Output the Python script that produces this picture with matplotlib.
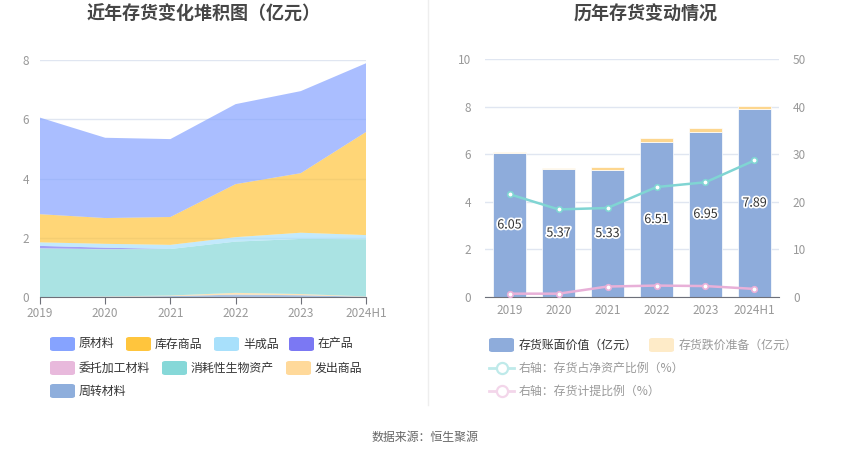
import matplotlib.pyplot as plt
import matplotlib.patheffects as pe
from matplotlib.patches import FancyBboxPatch
from matplotlib.lines import Line2D

plt.rcParams["font.family"] = ["Noto Sans CJK SC", "DejaVu Sans"]

# Data
years = ["2019", "2020", "2021", "2022", "2023", "2024H1"]

raw_material = [3.26, 2.71, 2.63, 2.70, 2.77, 2.32]      # 原材料
stock_goods = [0.95, 0.87, 0.94, 1.79, 2.01, 3.48]       # 库存商品
semi_finished = [0.12, 0.13, 0.14, 0.15, 0.21, 0.14]     # 半成品
work_in_progress = [0.08, 0.05, 0.0, 0.0, 0.0, 0.0]      # 在产品
outsourced = [0.005, 0.005, 0.0, 0.0, 0.0, 0.0]          # 委托加工材料
bio_assets = [1.64, 1.59, 1.57, 1.73, 1.86, 1.93]        # 消耗性生物资产
shipped_goods = [0.0, 0.01, 0.02, 0.06, 0.04, 0.01]      # 发出商品
turnover_material = [0.0, 0.01, 0.03, 0.08, 0.06, 0.01]  # 周转材料

book_value = [6.05, 5.37, 5.33, 6.51, 6.95, 7.89]        # 存货账面价值
impairment = [0.04, 0.04, 0.12, 0.15, 0.16, 0.13]        # 存货跌价准备
net_asset_ratio = [21.6, 18.4, 18.7, 23.1, 24.1, 28.7]   # 存货占净资产比例 %
provision_ratio = [0.7, 0.7, 2.2, 2.4, 2.3, 1.7]         # 存货计提比例 %

W, H = 850, 459
fig = plt.figure(figsize=(W / 100, H / 100), dpi=100)


def fx(px):
    return px / W


def fy(py):
    return 1 - py / H


grid_c = "#e0e6f1"
tick_c = "#999999"
axis_c = "#6e7079"

# ---------------- left: stacked areas ----------------
ax = fig.add_axes([fx(40), fy(297), fx(366 - 40), fy(60) - fy(297)])

# bottom -> top
layers = [
    (turnover_material, "#8eaedc"),
    (shipped_goods, "#ffd99a"),
    (bio_assets, "#86d8d8"),
    (outsourced, "#e8b9dc"),
    (work_in_progress, "#7b78f3"),
    (semi_finished, "#a8e0fb"),
    (stock_goods, "#ffc53d"),
    (raw_material, "#86a3ff"),
]
x = list(range(len(years)))
ax.stackplot(x, *[v for v, _ in layers], colors=[c for _, c in layers],
             alpha=0.7, linewidth=0)
ax.set_xlim(0, len(years) - 1)
ax.set_ylim(0, 8)
ax.set_yticks([0, 2, 4, 6, 8])
ax.set_xticks(x)
ax.set_xticklabels(years)
ax.yaxis.grid(True, color=grid_c, linewidth=1)
ax.set_axisbelow(True)
for s in ["top", "right", "left"]:
    ax.spines[s].set_visible(False)
ax.spines["bottom"].set_color(axis_c)
ax.tick_params(axis="y", length=0, colors=tick_c, labelsize=8.5, pad=8)
ax.tick_params(axis="x", length=5, color=axis_c, colors=tick_c, labelsize=8.5, pad=2)

fig.text(fx(204), fy(14), "近年存货变化堆积图（亿元）", ha="center", va="center",
         fontsize=13, fontweight="bold", color="#464646")

# left legend drawn by hand
left_items = [
    ("原材料", "#86a3ff", 50, 344),
    ("库存商品", "#ffc53d", 126, 344),
    ("半成品", "#a8e0fb", 214, 344),
    ("在产品", "#7b78f3", 289, 344),
    ("委托加工材料", "#e8b9dc", 50, 368),
    ("消耗性生物资产", "#86d8d8", 162, 368),
    ("发出商品", "#ffd99a", 286, 368),
    ("周转材料", "#8eaedc", 50, 391),
]
for label, color, px, py in left_items:
    fig.patches.append(FancyBboxPatch(
        (fx(px), fy(py + 7)), fx(25), fy(py - 7) - fy(py + 7),
        boxstyle="round,pad=0,rounding_size=0.004", transform=fig.transFigure,
        facecolor=color, edgecolor="none"))
    fig.text(fx(px + 29), fy(py), label, ha="left", va="center",
             fontsize=8.6, color="#333333")

# divider
fig.add_artist(Line2D([fx(428), fx(428)], [fy(0), fy(405)], color="#eeeeee",
                      linewidth=1, transform=fig.transFigure))

# ---------------- right: bars + lines ----------------
bx = fig.add_axes([fx(485), fy(297), fx(779 - 485), fy(59) - fy(297)])
bx.bar(x, book_value, width=0.69, color="#8eacdb", edgecolor="white", linewidth=0.5)
bx.bar(x, impairment, width=0.69, bottom=book_value, color="#fdd68e",
       edgecolor="white", linewidth=0.5)
for i, v in enumerate(book_value):
    bx.text(i, v / 2, f"{v:.2f}", ha="center", va="center", fontsize=9,
            color="#333333",
            path_effects=[pe.withStroke(linewidth=2.5, foreground="white")])
bx.set_xlim(-0.5, len(years) - 0.5)
bx.set_ylim(0, 10)
bx.set_yticks([0, 2, 4, 6, 8, 10])
bx.set_xticks(x)
bx.set_xticklabels(years)
bx.yaxis.grid(True, color=grid_c, linewidth=1)
bx.set_axisbelow(True)
for s in ["top", "right", "left"]:
    bx.spines[s].set_visible(False)
bx.spines["bottom"].set_color(axis_c)
bx.tick_params(axis="y", length=0, colors=tick_c, labelsize=8.5, pad=10)
bx.tick_params(axis="x", length=0, colors=tick_c, labelsize=8.5, pad=5)

bx2 = bx.twinx()
bx2.plot(x, net_asset_ratio, color="#80d5d3", linewidth=1.8, marker="o",
         markersize=4, markerfacecolor="white", markeredgewidth=1.2)
bx2.plot(x, provision_ratio, color="#e8b0d8", linewidth=1.8, marker="o",
         markersize=4, markerfacecolor="white", markeredgewidth=1.2)
bx2.set_ylim(0, 50)
bx2.set_yticks([0, 10, 20, 30, 40, 50])
for s in ["top", "right", "left", "bottom"]:
    bx2.spines[s].set_visible(False)
bx2.tick_params(axis="y", length=0, colors=tick_c, labelsize=8.5, pad=10)

fig.text(fx(646), fy(14), "历年存货变动情况", ha="center", va="center",
         fontsize=13, fontweight="bold", color="#464646")

# right legend
for label, color, px, py, tc in [
    ("存货账面价值（亿元）", "#8eacdb", 489, 345, "#333333"),
    ("存货跌价准备（亿元）", "#feebc8", 649, 345, "#999999"),
]:
    fig.patches.append(FancyBboxPatch(
        (fx(px), fy(py + 7)), fx(25), fy(py - 7) - fy(py + 7),
        boxstyle="round,pad=0,rounding_size=0.004", transform=fig.transFigure,
        facecolor=color, edgecolor="none"))
    fig.text(fx(px + 30), fy(py), label, ha="left", va="center",
             fontsize=8.6, color=tc)

for label, color, py in [
    ("右轴：存货占净资产比例（%）", "#bfeaea", 368),
    ("右轴：存货计提比例（%）", "#f3d6ea", 391),
]:
    fig.add_artist(Line2D([fx(489), fx(514)], [fy(py), fy(py)], color=color,
                          linewidth=2, transform=fig.transFigure))
    fig.add_artist(Line2D([fx(501.5)], [fy(py)], color=color, marker="o",
                          markersize=8, markerfacecolor="white",
                          markeredgewidth=1.6, transform=fig.transFigure))
    fig.text(fx(519), fy(py), label, ha="left", va="center",
             fontsize=8.6, color="#999999")

fig.text(fx(425), fy(438), "数据来源：恒生聚源", ha="center", va="center",
         fontsize=8.6, color="#666666")

fig.savefig("out.png", dpi=100, facecolor="white")
